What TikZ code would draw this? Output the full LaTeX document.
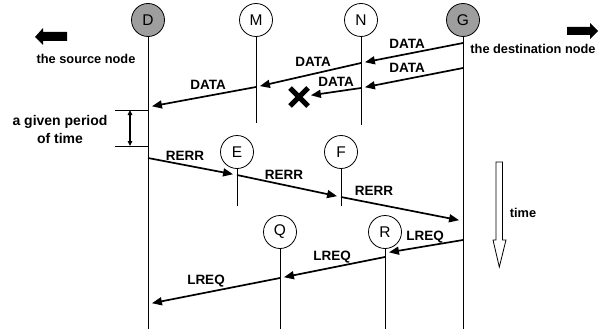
\documentclass[tikz,border=0pt]{standalone}
\usepackage{fontspec}
\setmainfont{Liberation Sans}
\usetikzlibrary{arrows.meta,calc}
\definecolor{nodegray}{RGB}{158,158,158}
\begin{document}
\begin{tikzpicture}[x=1pt,y=-1pt,
  proc/.style={circle,draw,line width=0.8pt,minimum size=33pt,inner sep=0pt,font=\fontsize{15.5}{15.5}\selectfont},
  endproc/.style={proc,fill=nodegray},
  life/.style={line width=0.9pt},
  msg/.style={line width=1.7pt,-{Triangle[length=10pt,width=8pt]},shorten >=4pt},
  lbl/.style={font=\bfseries\fontsize{13.5}{13.5}\selectfont,inner sep=0pt},
  note/.style={font=\bfseries\fontsize{12.8}{14}\selectfont,inner sep=0pt},
  blockarrow/.style={fill=black,draw=none}]
\useasboundingbox (0,0) rectangle (599,329);

% process nodes
\node[endproc] (D) at (148,20) {D};
\node[proc] (M) at (256,20) {M};
\node[proc] (N) at (361,20) {N};
\node[endproc] (G) at (463,20) {G};
\node[proc] (E) at (237,152) {E};
\node[proc] (F) at (341,152) {F};
\node[proc] (Q) at (280,232) {Q};
\node[proc] (R) at (385,232) {R};

% lifeline ends
\coordinate (Dend) at (148,329);
\coordinate (Mend) at (256,123);
\coordinate (Nend) at (361,125);
\coordinate (Gend) at (463,329);
\coordinate (Eend) at (237,206);
\coordinate (Fend) at (341,206);
\coordinate (Qend) at (280,329);
\coordinate (Rend) at (385,329);

\draw[life] (D.south) -- (Dend);
\draw[life] (M.south) -- (Mend);
\draw[life] (N.south) -- (Nend);
\draw[life] (G.south) -- (Gend);
\draw[life] (E.south) -- (Eend);
\draw[life] (F.south) -- (Fend);
\draw[life] (Q.south) -- (Qend);
\draw[life] (R.south) -- (Rend);

% message points
\coordinate (g1) at (463,43);
\coordinate (g2) at (463,68);
\coordinate (g3) at (463,221);
\coordinate (g4) at (463,240);
\coordinate (n1) at (361,63);
\coordinate (n2) at (361,88);
\coordinate (m1) at (256,87);
\coordinate (d1) at (148,107);
\coordinate (d2) at (148,158);
\coordinate (d3) at (148,304);
\coordinate (e1) at (237,175);
\coordinate (f1) at (341,197);
\coordinate (r1) at (385,253);
\coordinate (r2) at (385,257);
\coordinate (q1) at (280,278);
\coordinate (xm) at (299,97);

% DATA
\draw[msg] (g1) -- (n1);
\draw[msg] (g2) -- (n2);
\draw[msg] (n1) -- (m1);
\draw[msg] (m1) -- (d1);
\draw[msg,shorten >=12pt] (n2) -- (xm);
\draw[line width=5pt] ($(xm)+(-9,-9)$) -- ($(xm)+(9,9)$);
\draw[line width=5pt] ($(xm)+(-9,9)$) -- ($(xm)+(9,-9)$);

\node[lbl] (l1) at (407,44) {DATA};
\node[lbl] (l2) at (407,68) {DATA};
\node[lbl] (l3) at (313,62) {DATA};
\node[lbl] (l4) at (336,82) {DATA};
\node[lbl] (l5) at (208,85) {DATA};

% RERR
\draw[msg] (d2) -- (e1);
\draw[msg] (e1) -- (f1);
\draw[msg] (f1) -- (g3);
\node[lbl] (r1l) at (185,156) {RERR};
\node[lbl] (r2l) at (284,175) {RERR};
\node[lbl] (r3l) at (374,191) {RERR};

% LREQ
\draw[msg] (g4) -- (r1);
\draw[msg] (r2) -- (q1);
\draw[msg] (q1) -- (d3);
\node[lbl] (q1l) at (425,237) {LREQ};
\node[lbl] (q2l) at (332,257) {LREQ};
\node[lbl] (q3l) at (206,281) {LREQ};

% period of time bracket
\coordinate (pa) at (115,110);
\coordinate (pb) at (115,146);
\draw[life] (pa) -- (148,110);
\draw[life] (pb) -- (148,146);
\draw[line width=1.3pt,{Triangle[length=5pt,width=4.5pt]}-{Triangle[length=5pt,width=4.5pt]}] (130,110) -- (130,146);
\node[font=\bfseries\fontsize{14}{18}\selectfont,align=center,inner sep=0pt] (period) at (60,129) {a given period\\of time};

% source / destination
\fill[blockarrow] (35,37) -- (43,28) -- (43,32) -- (67,32) -- (67,41) -- (43,41) -- (43,45) -- cycle;
\node[note] (src) at (86,59) {the source node};
\fill[blockarrow] (598,31) -- (590,23) -- (590,27) -- (567,27) -- (567,35) -- (590,35) -- (590,39) -- cycle;
\node[note] (dst) at (533,49) {the destination node};

% time arrow
\draw[line width=0.8pt,fill=white] (496,162) -- (502.5,162) -- (502.5,240) -- (506,240) -- (499.3,267) -- (493,240) -- (496,240) -- cycle;
\node[note] (time) at (523,213) {time};
\end{tikzpicture}
\end{document}
